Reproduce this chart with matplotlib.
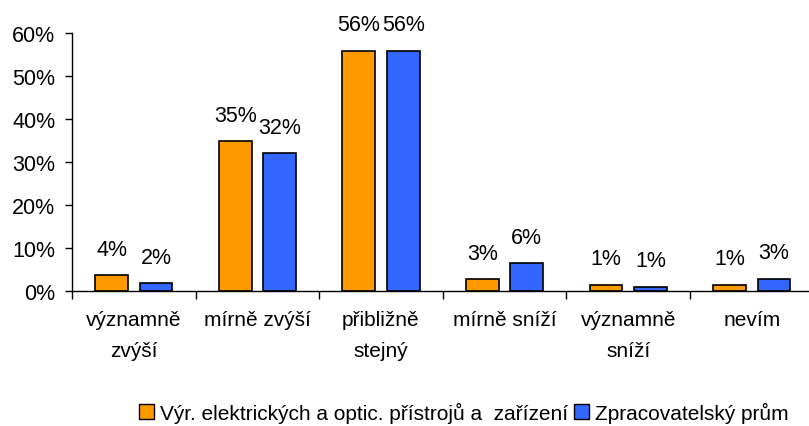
import matplotlib
matplotlib.use("Agg")
import matplotlib.pyplot as plt
import numpy as np
from matplotlib.patches import Patch

plt.rcParams['font.family'] = ['Liberation Sans', 'DejaVu Sans']

categories = ["významně\nzvýší", "mírně zvýší", "přibližně\nstejný", "mírně sníží", "významně\nsníží", "nevím"]
series_names = ["Výr. elektrických a optic. přístrojů a  zařízení", "Zpracovatelský prům"]
vals_a = [3.7, 34.8, 55.9, 2.8, 1.5, 1.5]
vals_b = [1.9, 32.1, 55.9, 6.4, 1.0, 2.9]
labels_a = ["4%", "35%", "56%", "3%", "1%", "1%"]
labels_b = ["2%", "32%", "56%", "6%", "1%", "3%"]
yticks = [0, 10, 20, 30, 40, 50, 60]
ytick_labels = ["0%", "10%", "20%", "30%", "40%", "50%", "60%"]

W, H = 809, 427
fig = plt.figure(figsize=(W/100, H/100), dpi=100)
ax = fig.add_axes([72/W, (H-292)/H, 741.6/W, 258/H])

x = np.arange(len(categories))
bw = 0.265
off = 0.18
ca, cb = "#FF9900", "#3366FF"
ba = ax.bar(x - off, vals_a, bw, color=ca, edgecolor="black", linewidth=1.2)
bb = ax.bar(x + off, vals_b, bw, color=cb, edgecolor="black", linewidth=1.2)

for bars, labs in ((ba, labels_a), (bb, labels_b)):
    for r, lab in zip(bars, labs):
        ax.annotate(lab, (r.get_x() + r.get_width()/2, r.get_height()),
                    xytext=(0, 11), textcoords="offset points",
                    ha="center", va="bottom", fontsize=15.5)

ax.set_xlim(-0.5, len(categories) - 0.5)
ax.set_ylim(0, 60)
ax.set_yticks(yticks)
ax.set_yticklabels(ytick_labels, fontsize=15.5)
ax.set_xticks(np.arange(len(categories) + 1) - 0.5)
ax.set_xticklabels([])
ax.set_xticks(x, minor=True)
ax.set_xticklabels(categories, minor=True, fontsize=15, linespacing=1.75, va="top")
ax.tick_params(axis="x", which="minor", length=0, pad=14)
ax.tick_params(axis="x", which="major", length=6, direction="out", width=1)
ax.tick_params(axis="y", length=5, direction="out", width=1, pad=7)

for s in ("top", "right"):
    ax.spines[s].set_visible(False)
for s in ("left", "bottom"):
    ax.spines[s].set_color("black")
    ax.spines[s].set_linewidth(1)

handles = [Patch(facecolor=ca, edgecolor="black", linewidth=1),
           Patch(facecolor=cb, edgecolor="black", linewidth=1)]
fig.legend(handles, series_names, loc="center", bbox_to_anchor=(464/W, (H-413)/H),
           ncol=2, frameon=False, fontsize=15, handlelength=0.7, handleheight=0.7,
           handletextpad=0.3, columnspacing=0.3, borderpad=0)

fig.savefig("out.png", dpi=100)
